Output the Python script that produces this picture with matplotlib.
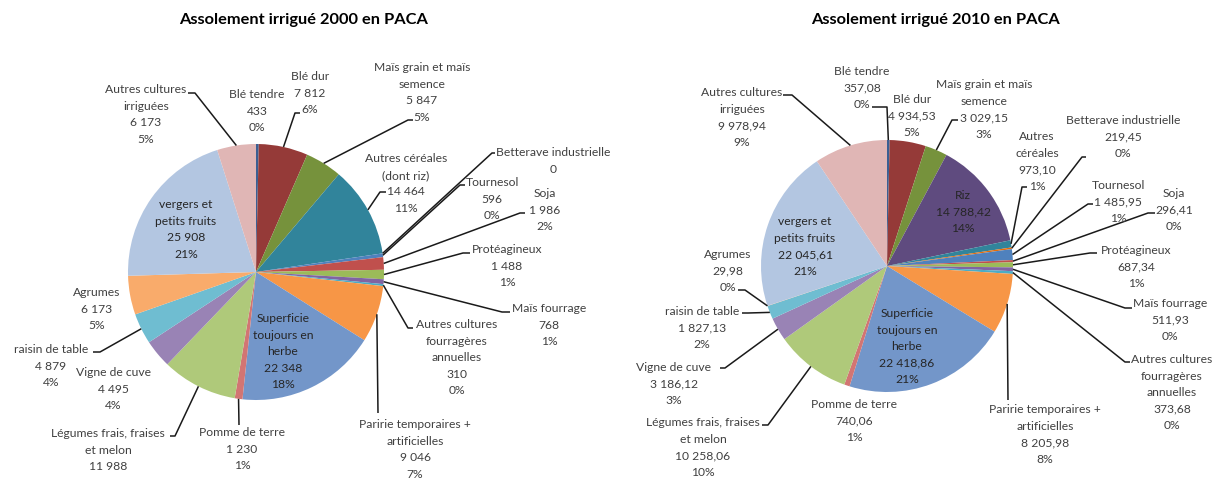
import numpy as np
import matplotlib.pyplot as plt

# ------------------------------------------------------------------ DATA
cultures_2000 = [
    'Blé tendre', 'Blé dur', 'Maïs grain et maïs\nsemence',
    'Autres céréales\n(dont riz)', 'Betterave industrielle', 'Tournesol',
    'Soja', 'Protéagineux', 'Maïs fourrage',
    'Autres cultures\nfourragères\nannuelles',
    'Paririe temporaires +\nartificielles',
    'Superficie\ntoujours en\nherbe', 'Pomme de terre',
    'Légumes frais, fraises\net melon', 'Vigne de cuve', 'raisin de table',
    'Agrumes', 'vergers et\npetits fruits', 'Autres cultures\nirriguées',
]
surfaces_2000 = [433, 7812, 5847, 14464, 0, 596, 1986, 1488, 768, 310,
                 9046, 22348, 1230, 11988, 4495, 4879, 6173, 25908, 6173]

cultures_2010 = [
    'Blé tendre', 'Blé dur', 'Maïs grain et maïs\nsemence', 'Riz',
    'Autres\ncéréales', 'Betterave industrielle', 'Tournesol', 'Soja',
    'Protéagineux', 'Maïs fourrage',
    'Autres cultures\nfourragères\nannuelles',
    'Paririe temporaires +\nartificielles',
    'Superficie\ntoujours en\nherbe', 'Pomme de terre',
    'Légumes frais, fraises\net melon', 'Vigne de cuve', 'raisin de table',
    'Agrumes', 'vergers et\npetits fruits', 'Autres cultures\nirriguées',
]
surfaces_2010 = [357.08, 4934.53, 3029.15, 14788.42, 973.10, 219.45,
                 1485.95, 296.41, 687.34, 511.93, 373.68, 8205.98,
                 22418.86, 740.06, 10258.06, 3186.12, 1827.13, 29.98,
                 22045.61, 9978.94]

# ------------------------------------------------------------------ STYLE
couleurs = ['#3B5F93', '#953A38', '#76923C', '#5F4B7F', '#31849B',
            '#E46C0A', '#4F81BD', '#C0504D', '#9BBB59', '#8064A2',
            '#4BACC6', '#F79646', '#7396C9', '#D27573', '#AFC97A',
            '#9983B5', '#6FBDD1', '#F9AB6B', '#B3C6E1', '#E0B6B5']
# 2000 chart has no separate "Riz" slice
couleurs_2000 = [c for i, c in enumerate(couleurs) if i != 3]

W, H = 1212, 479
FONT = 'Lato'
fs = 8.7
ls_px = 16.5          # line spacing in pixels
txt_out = '#404040'
txt_in = '#262626'

# label positions (x centre, y of first line), pixels from top-left
pos_2000 = [(257, 94), (310, 76), (422, 67), (406, 158), (553, 152),
            (492, 182), (545, 193), (507, 249), (549, 308), (457, 324),
            (415, 424), (283, 318), (242, 432), (108, 433), (113, 372),
            (51, 349), (97, 292), (186, 204), (146, 89)]
lead_2000 = [None, [(295, 113), (300, 113)], [(408, 120), (413, 120)],
             [(380, 192), (386, 192)], [(492, 153), (495, 153)],
             [(460, 185), (465, 185)], [(520, 213), (525, 213)],
             [(463, 253), (470, 253)], [(502, 312), (510, 312)],
             [(408, 328), (413, 328)], [(378, 413)], None, [(239, 425)],
             [(175, 436), (170, 436)], None, [(100, 352), (93, 352)],
             None, None, [(195, 93), (188, 93)]]
dedans_2000 = [11, 17]

pos_2010 = [(862, 71), (912, 99), (984, 84), (963, 195), (1037, 136),
            (1123, 120), (1118, 185), (1174, 193), (1136, 250),
            (1170, 303), (1172, 359), (1045, 409), (907, 313), (854, 404),
            (703, 422), (674, 367), (702, 311), (728, 254), (805, 221),
            (742, 92)]
lead_2010 = [[(887, 107), (872, 107)], None, [(952, 120), (958, 120)], None,
             [(1022, 187), (1027, 187)], [(1082, 157), (1086, 157)],
             [(1088, 204), (1093, 204)], [(1148, 213), (1155, 213)],
             [(1090, 253), (1097, 253)], [(1125, 308), (1132, 308)],
             [(1125, 362), (1130, 362)], [(1008, 400)], None, None,
             [(768, 425), (762, 425)], [(725, 368), (720, 368)],
             [(748, 313), (742, 313)], [(745, 290), (738, 290)], None,
             [(792, 95), (783, 95)]]
dedans_2010 = [3, 12, 18]


def fmt(v, dec):
    s = f'{v:,.{dec}f}'
    return s.replace(',', ' ').replace('.', ',')


# --------------------------------------------------------------- FIGURE
fig = plt.figure(figsize=(W / 100, H / 100), dpi=100)
fig.patch.set_facecolor('white')
ax = fig.add_axes([0, 0, 1, 1])


def camembert(noms, vals, cols, centre, r, pos, lead, dedans, dec, titre,
              tx):
    cx, cy = centre
    wedges, _ = ax.pie(vals, colors=cols, startangle=90, counterclock=False,
                       center=(cx, H - cy), radius=r,
                       wedgeprops=dict(linewidth=0))
    total = sum(vals)
    for i, (w, nom, v) in enumerate(zip(wedges, noms, vals)):
        lignes = nom.split('\n') + [fmt(v, dec)]
        if v > 0:
            lignes.append(f'{round(v / total * 100):.0f}%')
        x, y0 = pos[i]
        c = txt_in if i in dedans else txt_out
        for k, l in enumerate(lignes):
            ax.text(x, H - (y0 + k * ls_px + 0.36 * fs * 100 / 72), l,
                    ha='center', va='baseline', fontsize=fs, family=FONT,
                    color=c, zorder=5)
        if lead[i] is not None:
            a = np.deg2rad((w.theta1 + w.theta2) / 2)
            px = [w.center[0] + r * np.cos(a)] + [p[0] for p in lead[i]]
            py = [w.center[1] + r * np.sin(a)] + [H - p[1] for p in lead[i]]
            ax.plot(px, py, color='#1a1a1a', lw=1.1, zorder=4,
                    solid_capstyle='butt')
    ax.text(tx, H - 20, titre, ha='center', va='center', fontsize=11.8,
            family=FONT, fontweight='bold', color='black')


camembert(cultures_2000, surfaces_2000, couleurs_2000, (256, 272), 128,
          pos_2000, lead_2000, dedans_2000, 0,
          'Assolement irrigué 2000 en PACA', 304)
camembert(cultures_2010, surfaces_2010, couleurs, (887, 266), 126,
          pos_2010, lead_2010, dedans_2010, 2,
          'Assolement irrigué 2010 en PACA', 935)

ax.set_xlim(0, W)
ax.set_ylim(0, H)
ax.set_aspect('auto')
ax.axis('off')

fig.savefig('out.png', dpi=100)
